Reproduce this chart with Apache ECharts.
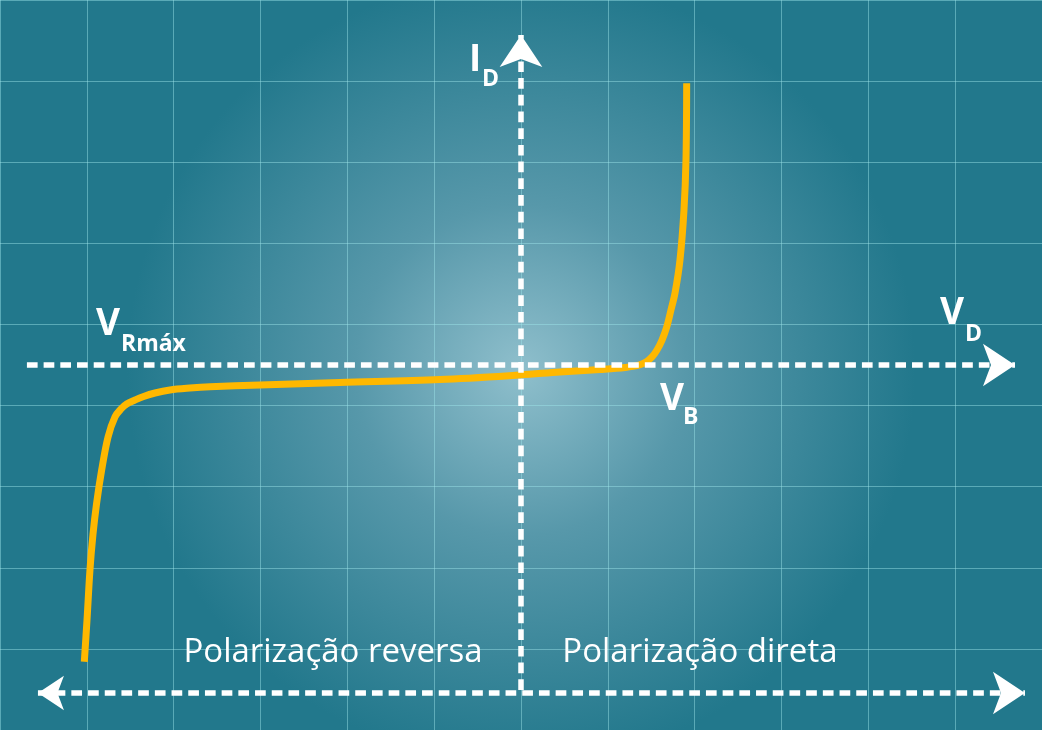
<!DOCTYPE html>
<html>
<head>
<meta charset="utf-8">
<script src="https://cdn.jsdelivr.net/npm/echarts@6/dist/echarts.min.js"></script>
<style>
  html, body { margin: 0; padding: 0; background: #22788c; }
  #chart { width: 1042px; height: 730px; }
</style>
</head>
<body>
<div id="chart"></div>
<script>
// Diode I-V characteristic (grid units: 1 column / 1 row)
const vD = [-5.029, -4.998, -4.964, -4.930, -4.887, -4.829, -4.756, -4.675, -4.606, -4.541,
            -4.446, -4.354, -4.215, -4.043, -3.813, -3.582, -3.006, -2.085, -0.933, -0.012,
            0.449, 0.910, 1.198, 1.347, 1.440, 1.509, 1.566, 1.624, 1.678, 1.727,
            1.774, 1.831, 1.877, 1.900, 1.908];
const iD = [-3.658, -3.144, -2.528, -2.096, -1.701, -1.294, -0.888, -0.638, -0.542, -0.481,
            -0.432, -0.391, -0.345, -0.308, -0.284, -0.268, -0.247, -0.216, -0.179, -0.123,
            -0.086, -0.055, -0.031, -0.006, 0.037, 0.099, 0.185, 0.308, 0.468, 0.678,
            0.888, 1.295, 1.911, 2.527, 3.473];

// axis arrows (data coordinates): [start, tip]
const axisV = [[-5.69, 0], [5.689, 0]];
const axisI = [[0, -4.007], [0, 4.069]];
const axisBottom = [[-5.563, -4.044], [5.804, -4.044]];

// annotation labels: main symbol + subscript
const mainText = ['I', 'V', 'V', 'V'];
const mainAt = [[-0.599, 3.982], [-4.895, 0.727], [4.826, 0.859], [1.601, -0.197]];
const subText = ['D', 'Rmáx', 'D', 'B'];
const subAt = [[-0.449, 3.668], [-4.607, 0.401], [5.113, 0.524], [1.866, -0.499]];
const regionText = ['Polarização reversa', 'Polarização direta'];
const regionAt = [[-2.165, -3.54], [2.06, -3.54]];

const chart = echarts.init(document.getElementById('chart'), null, { renderer: 'canvas' });

const gridLine = { show: true, lineStyle: { color: 'rgba(160,230,235,0.45)', width: 1 } };
const arrowStyle = { color: '#ffffff', width: 5.5, type: [10.7, 6], opacity: 1 };

function textSeries(texts, at, label) {
  return {
    type: 'scatter', yAxisIndex: 1, z: 4, symbolSize: 0, silent: true,
    itemStyle: { opacity: 1 },
    data: at.map((p, i) => ({ value: p, label: { formatter: texts[i] } })),
    label: Object.assign({ show: true, position: 'inside', color: '#ffffff', fontFamily: 'Open Sans' }, label)
  };
}

const option = {
  animation: false,
  backgroundColor: {
    type: 'radial', x: 0.5, y: 0.507, r: 0.54,
    colorStops: [
      { offset: 0, color: '#8fbfcc' },
      { offset: 0.42, color: '#5798aa' },
      { offset: 1, color: '#22788c' }
    ]
  },
  grid: { left: 0, right: 0, top: 0, bottom: 0, containLabel: false },
  xAxis: {
    type: 'value', min: -6, max: 6, interval: 1,
    axisLine: { show: false }, axisTick: { show: false }, axisLabel: { show: false },
    splitLine: gridLine
  },
  yAxis: [
    {
      type: 'value', min: 0, max: 9, interval: 1,
      axisLine: { show: false }, axisTick: { show: false }, axisLabel: { show: false },
      splitLine: gridLine
    },
    {
      type: 'value', min: -4.5, max: 4.5,
      axisLine: { show: false }, axisTick: { show: false }, axisLabel: { show: false },
      splitLine: { show: false }
    }
  ],
  series: [
    {
      type: 'line', yAxisIndex: 1, z: 2,
      data: vD.map((v, i) => [v, iD[i]]),
      smooth: 0.35, showSymbol: false, symbol: 'none',
      lineStyle: { color: '#ffb800', width: 7, cap: 'butt' }
    },
    {
      type: 'lines', coordinateSystem: 'cartesian2d', yAxisIndex: 1, z: 3,
      symbol: ['none', 'arrow'], symbolSize: [26, 32],
      lineStyle: arrowStyle,
      data: [{ coords: axisV }, { coords: axisI }]
    },
    {
      type: 'lines', coordinateSystem: 'cartesian2d', yAxisIndex: 1, z: 3,
      symbol: ['arrow', 'arrow'], symbolSize: [26, 32],
      lineStyle: arrowStyle,
      data: [{ coords: axisBottom }]
    },
    textSeries(mainText, mainAt, { align: 'left', verticalAlign: 'top', fontSize: 37, fontWeight: 'bold', lineHeight: 37 }),
    textSeries(subText, subAt, { align: 'left', verticalAlign: 'top', fontSize: 23, fontWeight: 'bold', lineHeight: 23 }),
    textSeries(regionText, regionAt, { align: 'center', verticalAlign: 'middle', fontSize: 33, fontWeight: 'normal' })
  ]
};
chart.setOption(option);
</script>
</body>
</html>
